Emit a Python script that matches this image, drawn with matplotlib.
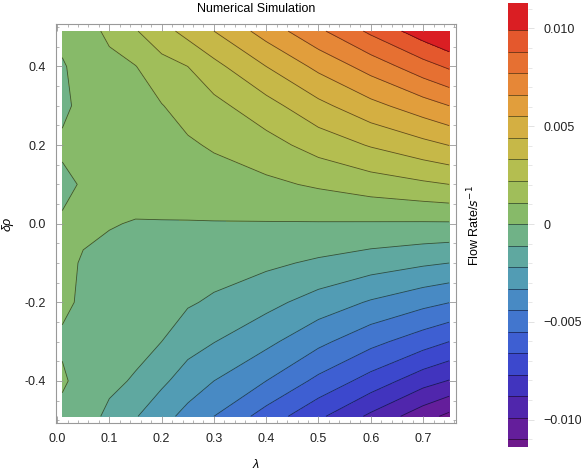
import numpy as np
import matplotlib
matplotlib.use("Agg")
import matplotlib.pyplot as plt
from matplotlib.ticker import MultipleLocator, FixedLocator

plt.rcParams['font.family'] = ['Liberation Sans', 'DejaVu Sans']
plt.rcParams['font.size'] = 9

# grid
lam = [0.01, 0.05, 0.1, 0.15, 0.2, 0.25, 0.3, 0.4, 0.5, 0.6, 0.7, 0.75]
drho = [-0.49, -0.4, -0.3, -0.2, -0.1, 0.0, 0.1, 0.2, 0.3, 0.4, 0.49]

# flow rate in units of the contour step (0.0011 1/s), one row per drho
unit = 0.0011
flow_units = [
    [-0.3, -0.55, -1.22, -1.93, -2.63, -3.33, -4.0, -5.42, -6.8, -8.2, -9.6, -10.25],
    [0.15, -0.38, -0.78, -1.1, -1.81, -2.45, -3.0, -4.0, -5.25, -6.4, -7.6, -8.05],
    [-0.15, -0.25, -0.45, -0.7, -1.0, -1.62, -1.97, -2.75, -3.75, -4.7, -5.55, -6.0],
    [0.2, -0.15, -0.25, -0.38, -0.6, -0.89, -1.15, -1.7, -2.42, -3.1, -3.7, -3.98],
    [0.15, -0.05, -0.1, -0.17, -0.28, -0.42, -0.56, -0.81, -1.15, -1.52, -1.85, -2.0],
    [0.1, 0.1, 0.02, -0.02, -0.03, -0.04, -0.04, -0.05, -0.06, -0.08, -0.1, -0.1],
    [-0.2, 0.08, 0.1, 0.15, 0.27, 0.4, 0.52, 0.8, 1.13, 1.5, 1.83, 2.0],
    [0.15, 0.15, 0.22, 0.33, 0.58, 0.86, 1.12, 1.62, 2.4, 3.08, 3.7, 4.02],
    [-0.2, 0.25, 0.42, 0.6, 0.96, 1.41, 1.71, 2.63, 3.73, 4.7, 5.55, 6.0],
    [-0.1, 0.38, 0.72, 0.97, 1.65, 2.0, 2.71, 4.0, 5.25, 6.4, 7.6, 8.15],
    [0.3, 0.55, 1.22, 1.93, 2.63, 3.33, 4.0, 5.42, 6.8, 8.2, 9.55, 10.2],
]
flow = np.array(flow_units) * unit

levels = [-0.0114] + [k * unit for k in range(-10, 10)] + [0.0113]

band_colors = [
    (110, 25, 140), (100, 30, 155), (80, 38, 172), (65, 52, 190),
    (60, 72, 205), (62, 95, 210), (66, 118, 206), (72, 138, 196),
    (82, 156, 180), (95, 168, 160), (112, 178, 135), (135, 186, 105),
    (160, 190, 90), (180, 190, 80), (198, 184, 72), (212, 175, 66),
    (225, 158, 60), (230, 135, 55), (230, 112, 50), (228, 88, 45),
    (218, 30, 35),
]
band_colors = [tuple(c / 255 for c in rgb) for rgb in band_colors]

fig = plt.figure(figsize=(5.81, 4.70), dpi=100)
ax = fig.add_axes([56 / 581, 47 / 470, 400 / 581, 399 / 470])
cax = fig.add_axes([508 / 581, 23 / 470, 20 / 581, 444 / 470])

cf = ax.contourf(lam, drho, flow, levels=levels, colors=band_colors)
cl = ax.contour(lam, drho, flow, levels=levels[1:-1], colors='k',
                linewidths=0.6, alpha=0.55, linestyles='solid',
                negative_linestyles='solid')

ax.set_xlim(-0.002, 0.763)
ax.set_ylim(-0.507, 0.508)
ax.xaxis.set_major_locator(FixedLocator([0.0, 0.1, 0.2, 0.3, 0.4, 0.5, 0.6, 0.7]))
ax.xaxis.set_minor_locator(MultipleLocator(0.02))
ax.yaxis.set_major_locator(FixedLocator([-0.4, -0.2, 0.0, 0.2, 0.4]))
ax.yaxis.set_minor_locator(MultipleLocator(0.05))
ax.xaxis.set_major_formatter(plt.FormatStrFormatter('%.1f'))
ax.yaxis.set_major_formatter(plt.FormatStrFormatter('%.1f'))
ax.tick_params(which='both', direction='in', top=True, right=True,
               color='#999999', labelcolor='#222222')
ax.tick_params(which='major', length=5, width=0.6, pad=7)
ax.tick_params(which='minor', length=2.5, width=0.5)
for s in ax.spines.values():
    s.set_color('#999999')
    s.set_linewidth(0.8)

ax.set_title('Numerical Simulation', fontsize=9, pad=9)
ax.set_xlabel('λ', fontstyle='italic', fontsize=9, labelpad=10)
ax.set_ylabel('δρ', fontstyle='italic', fontsize=9, labelpad=8)

cbar = fig.colorbar(cf, cax=cax, spacing='proportional')
cbar.add_lines(cl)
cbar.outline.set_visible(False)
cbar.set_ticks([-0.01, -0.005, 0, 0.005, 0.01])
cbar.set_ticklabels(['\u22120.010', '\u22120.005', '0', '0.005', '0.010'])
cax.yaxis.set_minor_locator(MultipleLocator(0.001))
cax.tick_params(which='both', direction='out', color='#dddddd',
                labelcolor='#222222', labelsize=9)
cax.tick_params(which='major', length=4, width=0.6, pad=7)
cax.tick_params(which='minor', length=3, width=0.5)

fig.text(474 / 581, 244 / 470, 'Flow Rate/$s^{-1}$', rotation=90,
         ha='center', va='center', fontsize=9)

fig.savefig('out.png', dpi=100)
